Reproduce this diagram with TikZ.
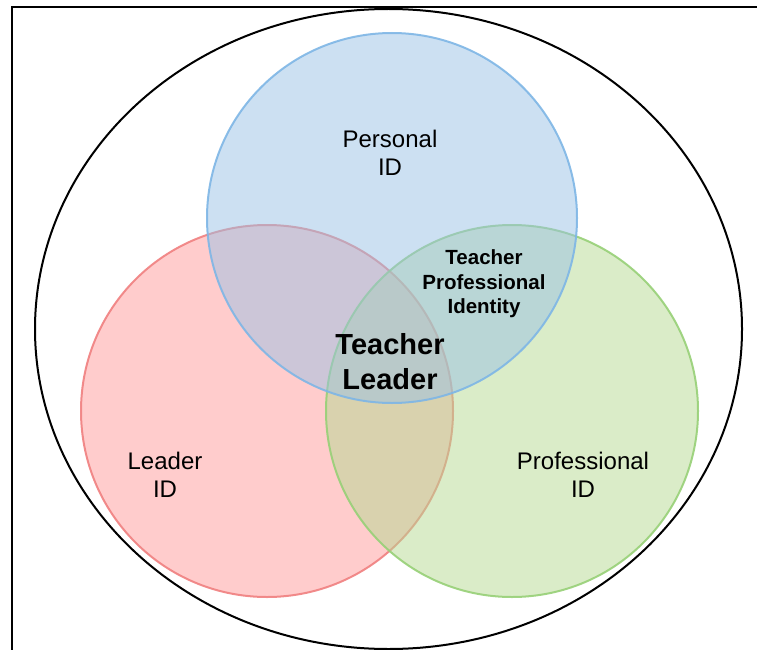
\documentclass[tikz,border=0pt]{standalone}
\usepackage{fontspec}
\setmainfont{Liberation Sans}
\usepackage{tikz}

\definecolor{redfill}{RGB}{255,153,153}
\definecolor{redline}{RGB}{240,128,128}
\definecolor{bluefill}{RGB}{153,193,229}
\definecolor{blueline}{RGB}{126,182,230}
\definecolor{greenfill}{RGB}{181,217,145}
\definecolor{greenline}{RGB}{151,208,119}

\begin{document}
\begin{tikzpicture}[x=1pt, y=-1pt,
    idcircle/.style={line width=2pt, fill opacity=0.5, draw opacity=0.9},
    idtext/.style={align=center, inner sep=0pt, font=\fontsize{24}{28}\selectfont},
    boldtext/.style={align=center, inner sep=0pt, font=\bfseries\fontsize{20.5}{24.5}\selectfont}]
    \useasboundingbox (0,0) rectangle (757,650);

    % Frame and outer ellipse
    \draw[line width=2pt] (12,650) -- (12,7) -- (757,7);
    \draw[line width=2pt] (388.5,329) ellipse [x radius=353.5, y radius=320];

    % Leader circle
    \draw[idcircle, fill=redfill, draw=redline] (267,411) circle [radius=186];
    % Professional circle
    \draw[idcircle, fill=greenfill, draw=greenline] (512,411) circle [radius=186];
    % Personal circle
    \draw[idcircle, fill=bluefill, draw=blueline] (392,218) circle [radius=185];

    % Labels
    \node[idtext] (personal) at (390,153) {Personal\\ID};
    \node[idtext] (leader) at (165,475) {Leader\\ID};
    \node[idtext] (professional) at (583,475) {Professional\\ID};
    \node[boldtext] (tpi) at (484,284) {Teacher\\Professional\\Identity};
    \node[boldtext, font=\bfseries\fontsize{29}{35}\selectfont] (tl) at (390,362) {Teacher\\Leader};
\end{tikzpicture}
\end{document}
